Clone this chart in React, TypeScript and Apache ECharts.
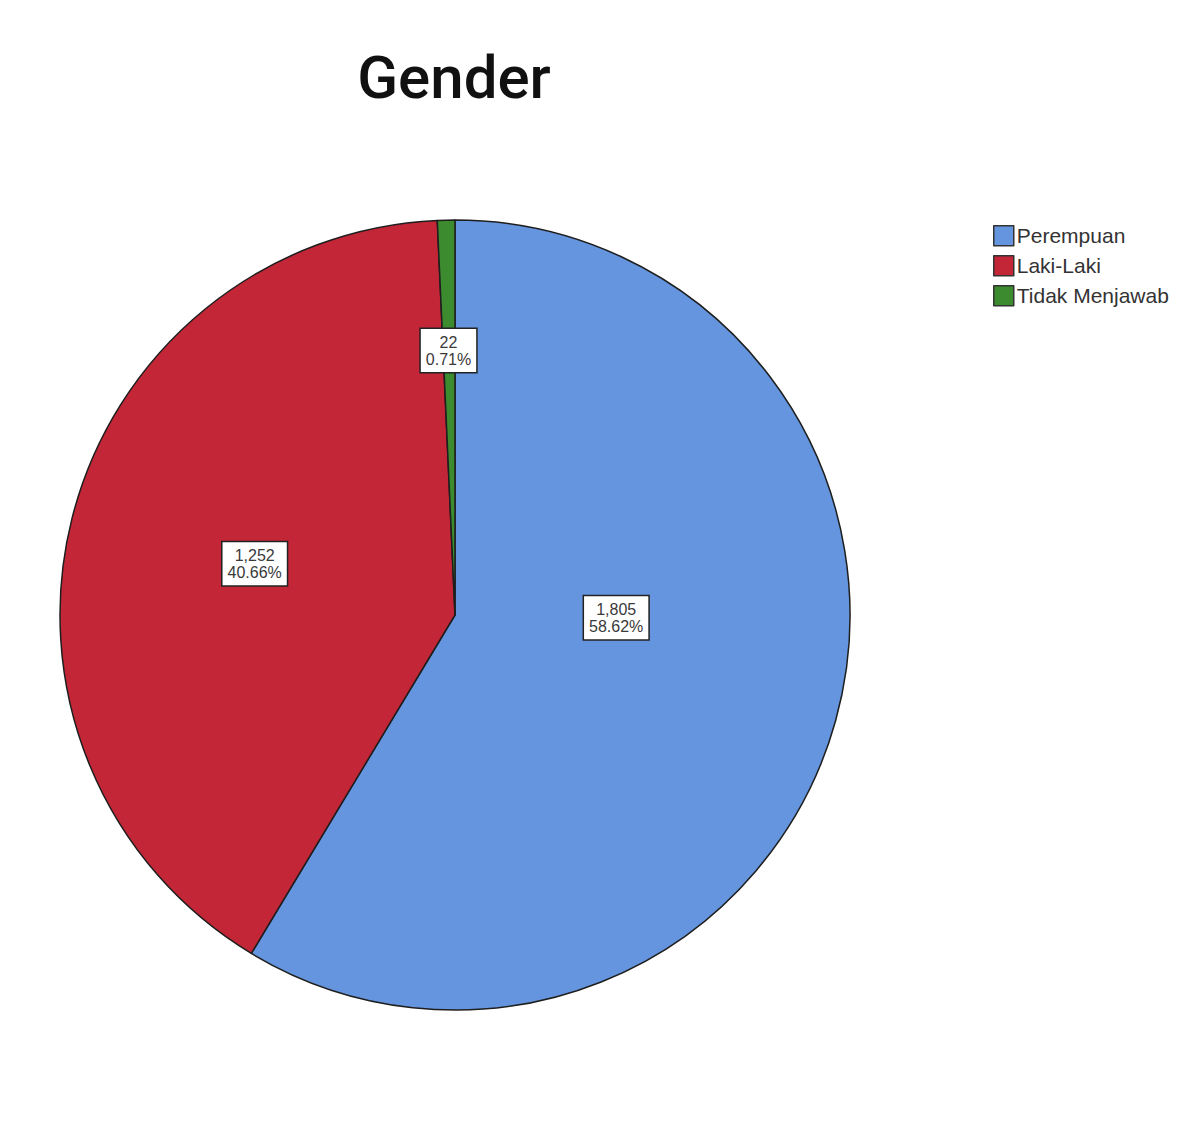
import React, { useEffect, useRef } from "react";
import * as echarts from "echarts";

const titleText = "Gender";
const categories = ["Perempuan", "Laki-Laki", "Tidak Menjawab"];
const counts = [1805, 1252, 22];
const percents = ["58.62%", "40.66%", "0.71%"];
const colors = ["#6495DE", "#C32637", "#3D8B2F"];
const labelOffsets = [
  [-32, -51],
  [-6, -2],
  [-2, -64],
];

function fmt(n: number) {
  return n.toLocaleString("en-US");
}

export default function App() {
  const ref = useRef<HTMLDivElement>(null);
  useEffect(() => {
    document.body.style.margin = "0";
    const chart = echarts.init(ref.current!, null, { renderer: "svg" });
    chart.setOption({
      animation: false,
      backgroundColor: "#ffffff",
      title: {
        text: titleText,
        left: 449,
        top: 42,
        textAlign: "center",
        textStyle: {
          fontFamily: "Roboto",
          fontWeight: 500,
          fontSize: 60,
          color: "#111111",
        },
      },
      legend: {
        orient: "vertical",
        left: 988,
        top: 220,
        itemWidth: 20,
        itemHeight: 20,
        itemGap: 8.5,
        icon: "rect",
        selectedMode: false,
        itemStyle: { borderColor: "#333", borderWidth: 1.5 },
        textStyle: {
          fontFamily: "Liberation Sans",
          fontSize: 21,
          color: "#333",
          padding: [0, 0, 0, -2],
        },
        data: categories,
      },
      series: [
        {
          type: "pie",
          center: [455, 615],
          radius: 395,
          startAngle: 90,
          clockwise: true,
          itemStyle: { borderColor: "#1e1e1e", borderWidth: 1.5 },
          emphasis: { disabled: true },
          label: {
            show: true,
            position: "inside",
            formatter: (p: any) => `${fmt(p.value)}\n${percents[p.dataIndex]}`,
            fontFamily: "Liberation Sans",
            fontSize: 16,
            lineHeight: 17,
            color: "#3a3a3a",
            backgroundColor: "#ffffff",
            borderColor: "#222",
            borderWidth: 1.5,
            padding: [5, 5, 4, 5],
            align: "center",
          },
          labelLine: { show: false },
          labelLayout: (params: any) => ({
            dx: labelOffsets[params.dataIndex][0],
            dy: labelOffsets[params.dataIndex][1],
          }),
          data: categories.map((c, i) => ({
            name: c,
            value: counts[i],
            itemStyle: { color: colors[i] },
          })),
        },
      ],
    });
    return () => chart.dispose();
  }, []);
  return <div ref={ref} style={{ width: 1200, height: 1137 }} />;
}
